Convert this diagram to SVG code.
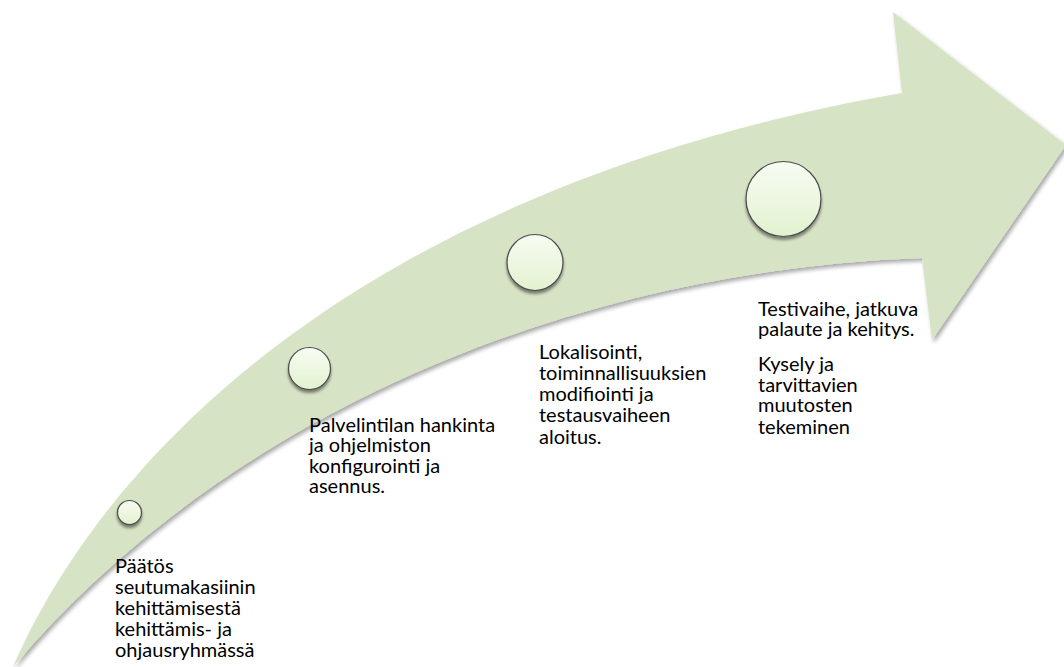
<svg xmlns="http://www.w3.org/2000/svg" width="1064" height="667" viewBox="0 0 1064 667">
  <defs>
    <filter id="arrowShadow" x="-5%" y="-5%" width="115%" height="115%">
      <feGaussianBlur in="SourceAlpha" stdDeviation="2"/>
      <feOffset dx="2" dy="3" result="b"/>
      <feComponentTransfer><feFuncA type="linear" slope="0.35"/></feComponentTransfer>
      <feMerge><feMergeNode/><feMergeNode in="SourceGraphic"/></feMerge>
    </filter>
    <filter id="dotShadow" x="-30%" y="-30%" width="160%" height="170%">
      <feGaussianBlur in="SourceAlpha" stdDeviation="1.8"/>
      <feOffset dx="0" dy="3" result="b"/>
      <feComponentTransfer><feFuncA type="linear" slope="0.45"/></feComponentTransfer>
      <feMerge><feMergeNode/><feMergeNode in="SourceGraphic"/></feMerge>
    </filter>
    <linearGradient id="dotFill" x1="0" y1="0" x2="0" y2="1">
      <stop offset="0" stop-color="#f7fcf2"/>
      <stop offset="1" stop-color="#e2f2d0"/>
    </linearGradient>
  </defs>
  <style>
    .dot { fill: url(#dotFill); stroke: #4a4a4a; stroke-width: 1.2; filter: url(#dotShadow); }
    .lbl { font-family: Lato, "Liberation Sans", sans-serif; font-size: 20px; fill: #000; }
  </style>
  <rect width="1064" height="667" fill="#ffffff"/>
  <g id="arrow">
    <path d="M13,667 C110,445 375,185 902,93 L893,12 L1066,145 L932,340 L922,258 C580,270 230,410 13,667 Z" fill="#d7e3c5" filter="url(#arrowShadow)"/>
  </g>
  <g id="step1">
    <circle class="dot" cx="129.5" cy="512.5" r="12"/>
    <text class="lbl" x="115" y="573">Päätös<tspan x="115" dy="21">seutumakasiinin</tspan><tspan x="115" dy="21">kehittämisestä</tspan><tspan x="115" dy="21">kehittämis- ja</tspan><tspan x="115" dy="21">ohjausryhmässä</tspan></text>
  </g>
  <g id="step2">
    <circle class="dot" cx="309.5" cy="368.5" r="21"/>
    <text class="lbl" x="309" y="432">Palvelintilan hankinta<tspan x="309" dy="20">ja ohjelmiston</tspan><tspan x="309" dy="21">konfigurointi ja</tspan><tspan x="309" dy="20">asennus.</tspan></text>
  </g>
  <g id="step3">
    <circle class="dot" cx="535" cy="262.5" r="28"/>
    <text class="lbl" x="539" y="359">Lokalisointi,<tspan x="539" dy="21">toiminnallisuuksien</tspan><tspan x="539" dy="21">modifiointi ja</tspan><tspan x="539" dy="21">testausvaiheen</tspan><tspan x="539" dy="22">aloitus.</tspan></text>
  </g>
  <g id="step4">
    <circle class="dot" cx="783.5" cy="199" r="37.5"/>
    <text class="lbl" x="758" y="316">Testivaihe, jatkuva<tspan x="758" dy="20">palaute ja kehitys.</tspan><tspan x="758" dy="35">Kysely ja</tspan><tspan x="758" dy="21">tarvittavien</tspan><tspan x="758" dy="20">muutosten</tspan><tspan x="758" dy="22">tekeminen</tspan></text>
  </g>
  <g id="connectors"/>
</svg>
